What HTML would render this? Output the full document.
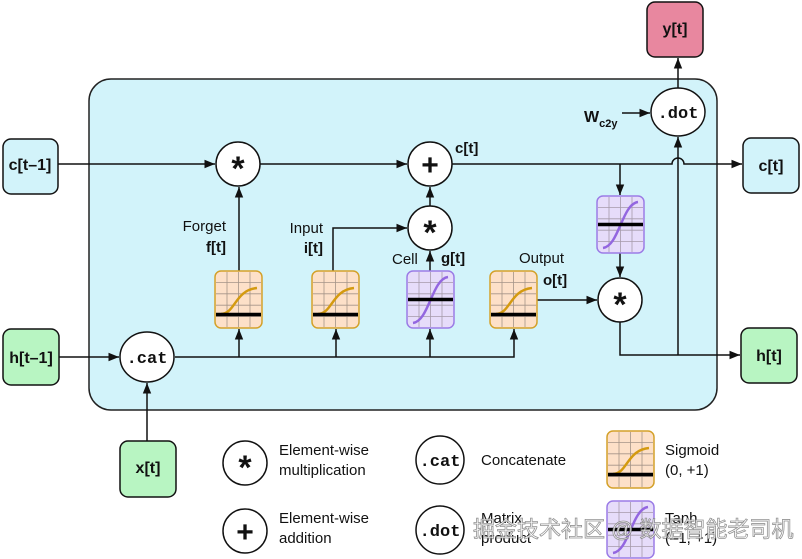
<!DOCTYPE html>
<html><head><meta charset="utf-8"><style>
body{margin:0;background:#fff}
svg{display:block}
text{font-family:"Liberation Sans",sans-serif;fill:#111}
.b{font-weight:bold}
.m{font-family:"Liberation Mono",monospace;font-weight:bold}
</style></head><body>
<svg width="802" height="559" viewBox="0 0 802 559" xmlns="http://www.w3.org/2000/svg">
<defs>
<marker id="a" viewBox="0 0 10 10" refX="10" refY="5" markerWidth="7" markerHeight="7" orient="auto-start-reverse"><path d="M0,1 L10,5 L0,9 z" fill="#111"/></marker>
<g id="sig">
<rect x="0" y="0" width="47" height="57" rx="6" fill="#fde0c8" stroke="#d4a12a" stroke-width="1.5"/>
<path d="M12,1V56M23.5,1V56M35,1V56M1,11.4H46M1,22.8H46M1,34.2H46M1,45.6H46" stroke="#a59488" stroke-width="0.8"/>
<path d="M6,43 C20,43 20,19 42,17" fill="none" stroke="#d49a10" stroke-width="2.5"/>
<path d="M1,43.5H46" stroke="#000" stroke-width="3.5"/>
</g>
<g id="tanh">
<rect x="0" y="0" width="47" height="57" rx="6" fill="#e6dcfa" stroke="#9b7ce6" stroke-width="1.5"/>
<path d="M12,1V56M23.5,1V56M35,1V56M1,11.4H46M1,22.8H46M1,34.2H46M1,45.6H46" stroke="#a59aaa" stroke-width="0.8"/>
<path d="M6,52 C22,50 25,8 41,6" fill="none" stroke="#9366e0" stroke-width="2.5"/>
<path d="M1,28.5H46" stroke="#000" stroke-width="3.5"/>
</g>
</defs>
<rect x="89" y="79" width="628" height="331" rx="22" fill="#d2f3fa" stroke="#222" stroke-width="1.5"/>
<g stroke="#111" stroke-width="1.5" fill="none">
<path d="M58,164H215" marker-end="url(#a)"/>
<path d="M260,164H407" marker-end="url(#a)"/>
<path d="M452,164H672 a6,6 0 0 1 12,0 H742" marker-end="url(#a)"/>
<path d="M620,164V195" marker-end="url(#a)"/>
<path d="M620,252V277" marker-end="url(#a)"/>
<path d="M537,300H597" marker-end="url(#a)"/>
<path d="M620,322V355H740" marker-end="url(#a)"/>
<path d="M678,355V137" marker-end="url(#a)"/>
<path d="M678,88V58" marker-end="url(#a)"/>
<path d="M622,113H650" marker-end="url(#a)"/>
<path d="M59,357H119" marker-end="url(#a)"/>
<path d="M147,441V383" marker-end="url(#a)"/>
<path d="M175,357H514V329" marker-end="url(#a)"/>
<path d="M239,357V329" marker-end="url(#a)"/>
<path d="M336,357V329" marker-end="url(#a)"/>
<path d="M430,357V329" marker-end="url(#a)"/>
<path d="M239,271V187" marker-end="url(#a)"/>
<path d="M333,271V228H407" marker-end="url(#a)"/>
<path d="M430,271V251" marker-end="url(#a)"/>
<path d="M430,206V187" marker-end="url(#a)"/>
</g>
<use href="#sig" x="215" y="271"/>
<use href="#sig" x="312" y="271"/>
<use href="#tanh" x="407" y="271"/>
<use href="#sig" x="490" y="271"/>
<use href="#tanh" x="597" y="196"/>
<g fill="#fff" stroke="#111" stroke-width="1.5">
<circle cx="238" cy="164" r="22"/>
<circle cx="430" cy="164" r="22"/>
<circle cx="430" cy="228" r="22"/>
<circle cx="620" cy="300" r="22"/>
<ellipse cx="678" cy="112" rx="27" ry="24"/>
<ellipse cx="147" cy="357" rx="27" ry="25"/>
<rect x="3" y="139" width="55" height="55" rx="8" fill="#d2f3fa"/>
<rect x="3" y="329" width="56" height="56" rx="8" fill="#b8f5c2"/>
<rect x="120" y="441" width="56" height="56" rx="8" fill="#b8f5c2"/>
<rect x="647" y="2" width="56" height="55" rx="8" fill="#e8879f"/>
<rect x="743" y="138" width="56" height="55" rx="8" fill="#d2f3fa"/>
<rect x="741" y="328" width="56" height="55" rx="8" fill="#b8f5c2"/>
<circle cx="245" cy="463" r="22"/>
<circle cx="245" cy="531" r="22"/>
<circle cx="440" cy="460" r="24"/>
<circle cx="440" cy="530" r="24"/>
</g>
<g class="b" font-size="16" text-anchor="middle">
<text x="30" y="170" class="b">c[t–1]</text>
<text x="31" y="363" class="b">h[t–1]</text>
<text x="148" y="473" class="b">x[t]</text>
<text x="675" y="34" class="b">y[t]</text>
<text x="771" y="171" class="b">c[t]</text>
<text x="769" y="361" class="b">h[t]</text>
</g>
<g font-size="34" class="b" text-anchor="middle">
<text x="238" y="180" class="b">*</text>
<text x="430" y="244" class="b">*</text>
<text x="620" y="316" class="b">*</text>
<text x="245" y="479" class="b">*</text>
</g>
<g font-size="30" class="b" text-anchor="middle">
<text x="430" y="175" class="b">+</text>
<text x="245" y="542" class="b">+</text>
</g>
<g font-size="17" text-anchor="middle">
<text x="678" y="118" class="m">.dot</text>
<text x="147" y="363" class="m">.cat</text>
<text x="440" y="466" class="m">.cat</text>
<text x="440" y="536" class="m">.dot</text>
</g>
<g font-size="15">
<text x="584" y="122" class="b" font-size="16">W<tspan font-size="11" dy="5">c2y</tspan></text>
<text x="455" y="153" class="b">c[t]</text>
<text x="226" y="231" text-anchor="end">Forget</text>
<text x="226" y="252" text-anchor="end" class="b">f[t]</text>
<text x="323" y="233" text-anchor="end">Input</text>
<text x="323" y="253" text-anchor="end" class="b">i[t]</text>
<text x="392" y="264">Cell</text>
<text x="441" y="263" class="b">g[t]</text>
<text x="519" y="263">Output</text>
<text x="543" y="285" class="b">o[t]</text>
<text x="279" y="455">Element-wise</text>
<text x="279" y="475">multiplication</text>
<text x="279" y="523">Element-wise</text>
<text x="279" y="543">addition</text>
<text x="481" y="465">Concatenate</text>
<text x="481" y="523">Matrix</text>
<text x="481" y="543">product</text>
<text x="665" y="455">Sigmoid</text>
<text x="665" y="475">(0, +1)</text>
<text x="665" y="523">Tanh</text>
<text x="665" y="543">(–1, +1)</text>
</g>
<use href="#sig" x="607" y="431"/>
<use href="#tanh" x="607" y="501"/>
<text x="473" y="537" font-size="22" style="font-family:'Liberation Sans','Noto Sans CJK SC',sans-serif;fill:#fff;stroke:#888;stroke-width:0.8;opacity:0.9">掘金技术社区 @ 数据智能老司机</text>
</svg>
</body></html>
